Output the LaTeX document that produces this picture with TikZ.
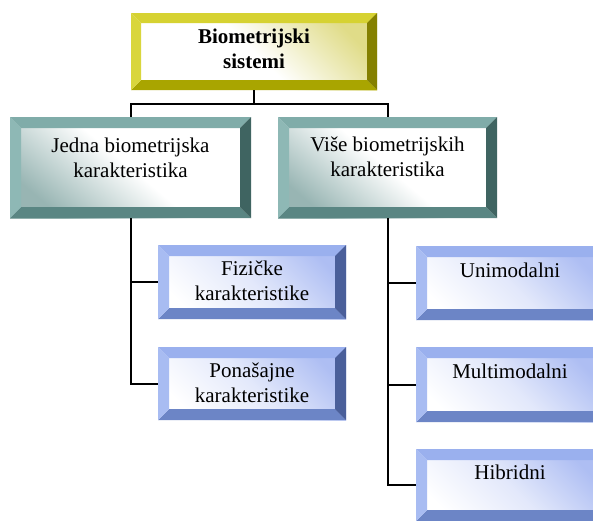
\documentclass[tikz,border=0pt]{standalone}
\usepackage{fontspec}
\setmainfont{Liberation Serif}

% bevel colour sets: T top, L left, R right, B bottom, S shading tint
\definecolor{yT}{HTML}{D6D232}
\definecolor{yL}{HTML}{D9D63C}
\definecolor{yR}{HTML}{848000}
\definecolor{yB}{HTML}{A9A500}
\definecolor{yS}{HTML}{E0DC88}
\definecolor{tT}{HTML}{80ACA9}
\definecolor{tL}{HTML}{8EB8B5}
\definecolor{tR}{HTML}{3F6461}
\definecolor{tB}{HTML}{5A8683}
\definecolor{tS}{HTML}{98B5B3}
\definecolor{bT}{HTML}{9AB0EE}
\definecolor{bL}{HTML}{A8BCF2}
\definecolor{bR}{HTML}{4A5F9A}
\definecolor{bB}{HTML}{6C85C6}
\definecolor{bS}{HTML}{AEBEF3}

\tikzset{
  boxbase/.style={rectangle, inner sep=0pt, outer sep=0pt, draw=none},
  yinner/.style={top color=yS, bottom color=white, middle color=white, shading angle=-45},
  tinner/.style={top color=white, bottom color=tS, middle color=white, shading angle=-40},
  binner/.style={top color=bS, bottom color=white, middle color=bS!35!white, shading angle=-45},
  boxtext/.style={inner sep=0pt, outer sep=0pt, align=center, anchor=north,
    font=\fontsize{21}{25}\selectfont},
  conn/.style={line width=2pt, black},
}

% bevelled box: #1 name, #2 left, #3 top, #4 right, #5 bottom, #6 colour set, #7 bevel
\newcommand\bevelbox[7]{%
  \node[boxbase, #6inner, minimum width={(#4-#2)*1pt}, minimum height={(#5-#3)*1pt}]
    (#1) at ({(#2+#4)/2},{(#3+#5)/2}) {};
  \fill[#6T] (#1.north west) -- (#1.north east)
    -- ([xshift=-#7pt,yshift=-#7pt]#1.north east)
    -- ([xshift=#7pt,yshift=-#7pt]#1.north west) -- cycle;
  \fill[#6B] (#1.south west) -- (#1.south east)
    -- ([xshift=-#7pt,yshift=#7pt]#1.south east)
    -- ([xshift=#7pt,yshift=#7pt]#1.south west) -- cycle;
  \fill[#6L] (#1.north west) -- ([xshift=#7pt,yshift=-#7pt]#1.north west)
    -- ([xshift=#7pt,yshift=#7pt]#1.south west) -- (#1.south west) -- cycle;
  \fill[#6R] (#1.north east) -- ([xshift=-#7pt,yshift=-#7pt]#1.north east)
    -- ([xshift=-#7pt,yshift=#7pt]#1.south east) -- (#1.south east) -- cycle;
}

\begin{document}
\begin{tikzpicture}[x=1pt, y=-1pt]
  \useasboundingbox (0,0) rectangle (593,520);
  \clip (0,0) rectangle (593,520);

  % branching point below the root
  \coordinate (split) at (254,104);

  % boxes
  \bevelbox{top}{131}{13}{377}{90}{y}{10}
  \bevelbox{jedna}{10}{117}{251}{218}{t}{11}
  \bevelbox{vise}{278}{117}{497}{218}{t}{11}
  \bevelbox{fiz}{158}{245}{346}{319}{b}{11}
  \bevelbox{pon}{158}{347}{346}{420}{b}{11}
  \bevelbox{uni}{416}{246}{604}{320}{b}{11}
  \bevelbox{multi}{416}{347}{604}{422}{b}{11}
  \bevelbox{hib}{416}{449}{604}{521}{b}{11}

  % connectors
  \draw[conn] (top.south) -- (split) -| (jedna.north);
  \draw[conn] (split) -| (vise.north);
  \draw[conn] (jedna.south) |- (fiz.west);
  \draw[conn] (jedna.south) |- (pon.west);
  \draw[conn] (vise.south) |- (uni.west);
  \draw[conn] (vise.south) |- (multi.west);
  \draw[conn] (vise.south) |- (hib.west);

  % labels
  \node[boxtext, font=\fontsize{21}{25}\selectfont\bfseries] (top-t)
    at ([yshift=-16pt]top.north) {Biometrijski\\sistemi};
  \node[boxtext] (jedna-t) at ([yshift=-21pt]jedna.north) {Jedna biometrijska\\karakteristika};
  \node[boxtext] (vise-t) at ([yshift=-20pt]vise.north) {Više biometrijskih\\karakteristika};
  \node[boxtext] (fiz-t) at ([yshift=-16pt]fiz.north) {Fizičke\\karakteristike};
  \node[boxtext] (pon-t) at ([yshift=-16pt]pon.north) {Ponašajne\\karakteristike};
  \node[boxtext] (uni-t) at ([yshift=-17pt]uni.north) {Unimodalni};
  \node[boxtext] (multi-t) at ([yshift=-17pt]multi.north) {Multimodalni};
  \node[boxtext] (hib-t) at ([yshift=-16pt]hib.north) {Hibridni};
\end{tikzpicture}
\end{document}
